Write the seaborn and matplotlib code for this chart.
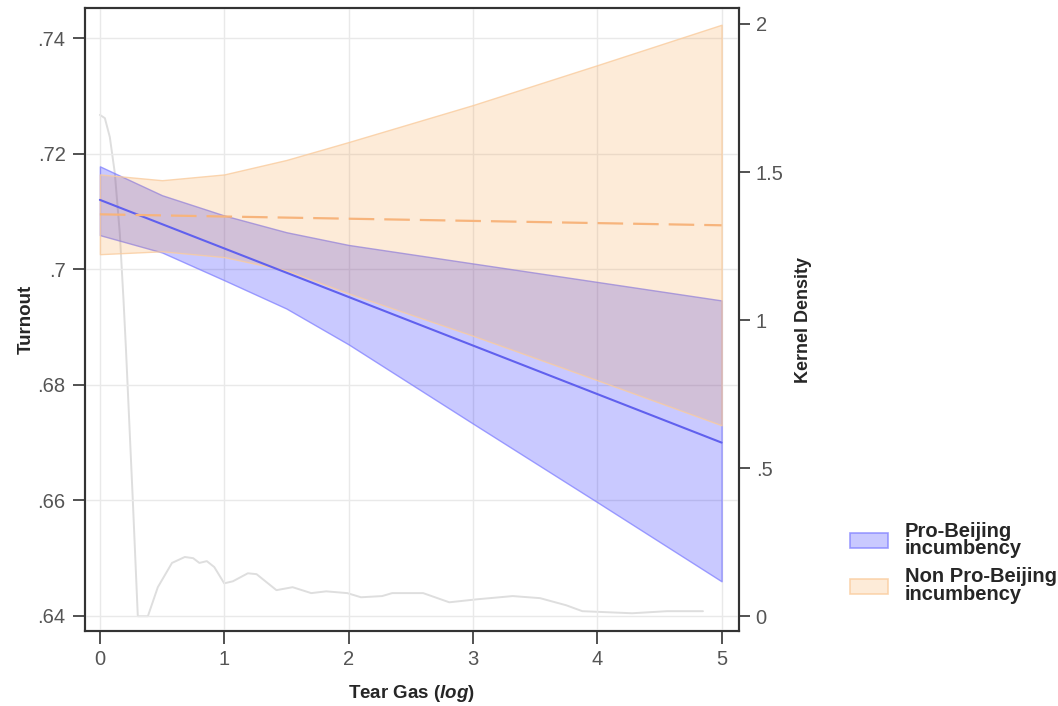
import numpy as np
import pandas as pd
import matplotlib
matplotlib.use("Agg")
import matplotlib.pyplot as plt
import seaborn as sns
from matplotlib.patches import Patch

# ---------------- data ----------------
ci_x = [0, 0.5, 1, 1.5, 2, 3, 4, 5]
pro_lower = [0.7059, 0.7029, 0.6981, 0.6932, 0.6870, 0.6733, 0.6597, 0.6460]
pro_upper = [0.7178, 0.7128, 0.7093, 0.7064, 0.7042, 0.7010, 0.6978, 0.6946]
non_lower = [0.7026, 0.7031, 0.7021, 0.6998, 0.6958, 0.6885, 0.6808, 0.6730]
non_upper = [0.7164, 0.7154, 0.7164, 0.7189, 0.7220, 0.7284, 0.7353, 0.7423]

line_x = [0, 5]
pro_fit = [0.7120, 0.6700]
non_fit = [0.7095, 0.7076]

dens_x = [0.00, 0.04, 0.08, 0.12, 0.16, 0.19, 0.21, 0.265, 0.305, 0.386, 0.466,
          0.58, 0.683, 0.75, 0.80, 0.86, 0.92, 1.00, 1.07, 1.19, 1.26, 1.34, 1.42,
          1.55, 1.70, 1.82, 1.99, 2.10, 2.27, 2.35, 2.53, 2.60, 2.81, 3.03, 3.32,
          3.54, 3.75, 3.88, 4.28, 4.56, 4.72, 4.85]
dens_y = [1.693, 1.682, 1.618, 1.497, 1.294, 1.068, 0.90, 0.39, 0.0, 0.0, 0.098,
          0.18, 0.20, 0.196, 0.18, 0.186, 0.166, 0.111, 0.118, 0.145, 0.142, 0.115, 0.088,
          0.098, 0.078, 0.084, 0.078, 0.064, 0.068, 0.078, 0.078, 0.078, 0.047, 0.057, 0.068,
          0.061, 0.037, 0.017, 0.010, 0.017, 0.017, 0.017]

x_ticks = [0, 1, 2, 3, 4, 5]
y_ticks = [0.64, 0.66, 0.68, 0.70, 0.72, 0.74]
y_ticklabels = [".64", ".66", ".68", ".7", ".72", ".74"]
y2_ticks = [0, 0.5, 1, 1.5, 2]
y2_ticklabels = ["0", ".5", "1", "1.5", "2"]
legend_labels = ["Pro-Beijing\nincumbency", "Non Pro-Beijing\nincumbency"]

# ---------------- style ----------------
sns.set_theme(style="white")
plt.rcParams['font.family'] = ['Liberation Sans', 'DejaVu Sans']
plt.rcParams['mathtext.fontset'] = 'custom'
plt.rcParams['mathtext.it'] = 'Liberation Sans:italic:bold'
plt.rcParams['mathtext.bfit'] = 'Liberation Sans:italic:bold'
plt.rcParams['mathtext.rm'] = 'Liberation Sans:bold'

blue_fill = (0.0, 0.0, 1.0, 0.21)
blue_edge = (0.50, 0.50, 1.0, 0.75)
blue_line = "#6060ee"
orange_fill = (0.96, 0.61, 0.25, 0.20)
orange_edge = (0.98, 0.80, 0.62, 0.8)
orange_line = "#f7b47c"
tick_col = "#555555"
spine_col = "#333333"

fig = plt.figure(figsize=(10.58, 7.06), dpi=100)
ax = fig.add_axes([0.0803, 0.1062, 0.6182, 0.8825])
ax2 = ax.twinx()
ax2.set_zorder(ax.get_zorder() - 1)
ax.patch.set_visible(False)

# density on secondary axis (behind)
dens_df = pd.DataFrame({"x": dens_x, "d": dens_y})
sns.lineplot(data=dens_df, x="x", y="d", ax=ax2, color="#dedede", lw=1.4,
             estimator=None, sort=False)

# CIs
ax.fill_between(ci_x, pro_lower, pro_upper, facecolor=blue_fill,
                edgecolor=blue_edge, linewidth=1.0, zorder=2)
ax.fill_between(ci_x, non_lower, non_upper, facecolor=orange_fill,
                edgecolor=orange_edge, linewidth=1.0, zorder=3)

fit_df = pd.DataFrame({"x": line_x + line_x,
                       "y": pro_fit + non_fit,
                       "g": ["pro"] * 2 + ["non"] * 2})
sns.lineplot(data=fit_df[fit_df.g == "pro"], x="x", y="y", ax=ax,
             color=blue_line, lw=1.5, zorder=4, estimator=None)
sns.lineplot(data=fit_df[fit_df.g == "non"], x="x", y="y", ax=ax,
             color=orange_line, lw=1.6, zorder=4, estimator=None,
             dashes=False, linestyle=(0, (11.5, 4.5)))

# limits
ax.set_xlim(-0.12, 5.14)
ax.set_ylim(0.6374, 0.7452)
ax2.set_ylim(-0.05, 2.054)

ax.set_xticks(x_ticks)
ax.set_xticklabels([str(t) for t in x_ticks])
ax.set_yticks(y_ticks)
ax.set_yticklabels(y_ticklabels)
ax2.set_yticks(y2_ticks)
ax2.set_yticklabels(y2_ticklabels)

ax.grid(True, color="#e9e9e9", lw=1.0, zorder=0)
ax.set_axisbelow(True)
ax2.grid(False)

for a in (ax, ax2):
    for s in a.spines.values():
        s.set_color(spine_col)
        s.set_linewidth(1.5)

ax.tick_params(axis="both", direction="out", length=9, width=1.2,
               color=spine_col, labelcolor=tick_col, labelsize=14.5, pad=5,
               bottom=True, left=True)
ax2.tick_params(axis="y", direction="out", length=8, width=1.2,
                color=spine_col, labelcolor=tick_col, labelsize=14.5, pad=4, right=True)

ax.set_xlabel("Tear Gas ($\\mathit{log}$)", fontsize=13.5, fontweight="bold",
              labelpad=10)
ax.set_ylabel("Turnout", fontsize=13.5, fontweight="bold", labelpad=2)
ax2.set_ylabel("Kernel Density", fontsize=13, fontweight="bold", labelpad=8)

handles = [Patch(facecolor=blue_fill, edgecolor=blue_edge, lw=1.2),
           Patch(facecolor=orange_fill, edgecolor=orange_edge, lw=1.2)]
leg = fig.legend(handles, legend_labels, loc="upper left",
                 bbox_to_anchor=(0.786, 0.287), frameon=False,
                 prop={"size": 14.5, "weight": "bold"},
                 handlelength=1.9, handleheight=0.75, handletextpad=0.85,
                 labelspacing=0.45)
for t in leg.get_texts():
    t.set_linespacing(0.92)

fig.savefig("out.png", dpi=100)
